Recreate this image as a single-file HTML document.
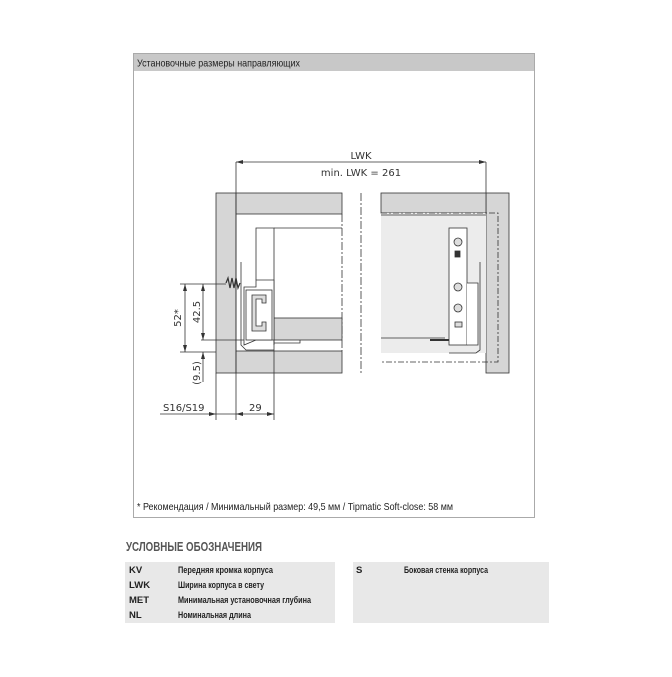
<!DOCTYPE html>
<html><head><meta charset="utf-8"><style>
body{margin:0;background:#fff;width:672px;height:672px;overflow:hidden;font-family:"Liberation Sans Narrow","Liberation Sans",sans-serif;}
</style></head><body>
<svg width="672" height="672" viewBox="0 0 672 672" xmlns="http://www.w3.org/2000/svg" font-family="'Liberation Sans Narrow','Liberation Sans',sans-serif">
<rect x="133.5" y="53.5" width="401" height="464" fill="#fff" stroke="#aaa"/>
<rect x="134" y="54" width="400" height="17" fill="#c8c8c8"/>
<text x="137" y="66.5" font-size="10.5" fill="#222" textLength="163" lengthAdjust="spacingAndGlyphs">Установочные размеры направляющих</text>

<g stroke="#333" stroke-width="0.8" fill="none">
<!-- left cabinet -->
<rect x="216" y="193" width="20" height="180" fill="#d6d6d6"/>
<rect x="236" y="193" width="106" height="21" fill="#d6d6d6"/>
<rect x="236" y="351" width="106" height="22" fill="#d6d6d6"/>
<line x1="342" y1="214" x2="342" y2="351" stroke-dasharray="8,2,2,2"/>
<line x1="236" y1="162" x2="236" y2="420"/>
<line x1="274" y1="228" x2="342" y2="228"/>
<rect x="274" y="318" width="68" height="22" fill="#d6d6d6"/>
<path d="M256 280 V228 H274 V345" fill="#fff"/>
<path d="M244 345 V287 H256 V280 H274 V340 H256 Z" fill="#fff"/>
<rect x="246" y="290" width="26" height="50" fill="#fff"/>
<path d="M252 295 H266 V303 H262 V299 H256 V326 H262 V322 H266 V331 H252 Z" fill="#ddd"/>
<path d="M241 262 V345 L246 350 H274" />
<path d="M274 343 H300 V340" />
<path d="M226 283 l2 -5 l2 10 l2 -10 l2 10 l2 -10 l2 10 l2 -5" stroke-width="1.2"/>
<line x1="274" y1="340" x2="274" y2="420"/>
<line x1="216" y1="373" x2="216" y2="420"/>
<!-- separator -->
<line x1="361" y1="193" x2="361" y2="373" stroke-dasharray="8,2,2,2"/>
<!-- right cabinet -->
<rect x="486" y="193" width="23" height="180" fill="#d6d6d6"/>
<rect x="381" y="193" width="105" height="20" fill="#d6d6d6"/>
<rect x="381" y="213" width="105" height="140" fill="#ececec" stroke="none"/>
<path d="M381 213 H498 V362 H381" stroke-dasharray="6,2,2,2"/>
<line x1="381" y1="215" x2="486" y2="215"/>
<line x1="381" y1="338" x2="445" y2="338"/>
<line x1="486" y1="162" x2="486" y2="193"/>
<rect x="449" y="228" width="18" height="117" fill="#fff"/>
<path d="M467 283 H478 V345 H467" fill="#fff"/>
<path d="M480 262 V350 L476 353 H449" />
<path d="M430 340 H449" stroke-width="2"/>
<circle cx="458" cy="242" r="4" fill="#ddd"/>
<circle cx="458" cy="287" r="4" fill="#ddd"/>
<circle cx="458" cy="308" r="4" fill="#ddd"/>
<rect x="455" y="251" width="5" height="6" fill="#333"/>
<rect x="455" y="322" width="7" height="5" fill="#ddd"/>
<!-- dimension lines -->
<line x1="236" y1="162" x2="486" y2="162"/>
<line x1="180" y1="284" x2="226" y2="284"/>
<line x1="185" y1="284" x2="185" y2="352"/>
<line x1="180" y1="352" x2="216" y2="352"/>
<line x1="203" y1="284" x2="203" y2="340"/>
<line x1="201" y1="340" x2="244" y2="340"/>
<line x1="203" y1="352" x2="203" y2="382"/>
<line x1="160" y1="414" x2="274" y2="414"/>
</g>
<g fill="#333">
<path d="M236 162 l7 -2 v4z"/><path d="M486 162 l-7 -2 v4z"/>
<path d="M185 284 l-2 7 h4z"/><path d="M185 352 l-2 -7 h4z"/>
<path d="M203 284 l-2 7 h4z"/><path d="M203 340 l-2 -7 h4z"/>
<path d="M203 352 l-2 7 h4z"/>
<path d="M216 414 l-7 -2 v4z"/><path d="M236 414 l7 -2 v4z"/><path d="M274 414 l-7 -2 v4z"/>
</g>
<g font-size="11" fill="#333" font-family="'DejaVu Sans','Liberation Sans',sans-serif">
<text x="361" y="159" text-anchor="middle" font-size="10">LWK</text>
<text x="361" y="176" text-anchor="middle" font-size="10">min. LWK = 261</text>
<text transform="translate(181,318) rotate(-90)" text-anchor="middle" font-size="10">52*</text>
<text transform="translate(200,312) rotate(-90)" text-anchor="middle" font-size="10">42.5</text>
<text transform="translate(200,373) rotate(-90)" text-anchor="middle" font-size="10">(9.5)</text>
<text x="163" y="411" font-size="10">S16/S19</text>
<text x="249" y="411" font-size="10">29</text>
</g>
<text x="137" y="510" font-size="10.5" fill="#222" textLength="316" lengthAdjust="spacingAndGlyphs">* Рекомендация / Минимальный размер: 49,5 мм / Tipmatic Soft-close: 58 мм</text>
<text x="126" y="551" font-size="13" font-weight="bold" fill="#555" textLength="136" lengthAdjust="spacingAndGlyphs">УСЛОВНЫЕ ОБОЗНАЧЕНИЯ</text>
<rect x="125" y="562" width="210" height="61" fill="#e8e8e8"/>
<rect x="353" y="562" width="196" height="61" fill="#e8e8e8"/>
<g font-size="9.5" font-weight="bold" fill="#222">
<text x="129" y="573">KV</text><text x="178" y="573" textLength="95" lengthAdjust="spacingAndGlyphs">Передняя кромка корпуса</text>
<text x="129" y="588">LWK</text><text x="178" y="588" textLength="86" lengthAdjust="spacingAndGlyphs">Ширина корпуса в свету</text>
<text x="129" y="603">MET</text><text x="178" y="603" textLength="133" lengthAdjust="spacingAndGlyphs">Минимальная установочная глубина</text>
<text x="129" y="618">NL</text><text x="178" y="618" textLength="73" lengthAdjust="spacingAndGlyphs">Номинальная длина</text>
<text x="356" y="573">S</text><text x="404" y="573" textLength="84" lengthAdjust="spacingAndGlyphs">Боковая стенка корпуса</text>
</g>
</svg>
</body></html>
